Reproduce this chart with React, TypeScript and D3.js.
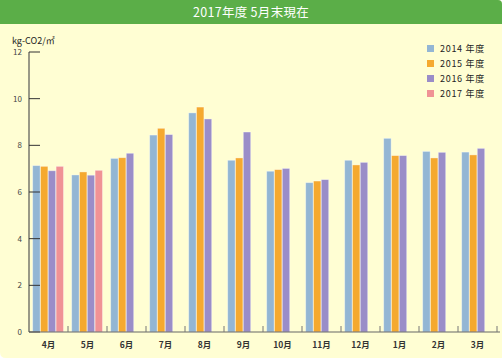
import React from "react";
import * as d3 from "d3";

const months = ["4月", "5月", "6月", "7月", "8月", "9月", "10月", "11月", "12月", "1月", "2月", "3月"];
const seriesNames = ["2014 年度", "2015 年度", "2016 年度", "2017 年度"];
const seriesColors = ["#93B6D4", "#F5A92F", "#9A8DC8", "#F09295"];
const v2014 = [7.13, 6.73, 7.44, 8.44, 9.39, 7.36, 6.89, 6.40, 7.36, 8.30, 7.74, 7.71];
const v2015 = [7.10, 6.86, 7.47, 8.73, 9.64, 7.46, 6.96, 6.47, 7.16, 7.56, 7.46, 7.59];
const v2016 = [6.91, 6.72, 7.66, 8.46, 9.13, 8.57, 7.01, 6.53, 7.27, 7.56, 7.70, 7.87];
const v2017: (number | null)[] = [7.10, 6.93, null, null, null, null, null, null, null, null, null, null];
const yTicks = [0, 2, 4, 6, 8, 10, 12];
const title = "2017年度 5月末現在";
const unit = "kg-CO2/㎡";

const W = 502, H = 360;
const font = "'Noto Sans CJK JP', 'Noto Sans', sans-serif";

export default function App() {
  const allSeries = [v2014, v2015, v2016, v2017];
  const x = d3.scaleBand<string>().domain(months).range([29, 497]).paddingInner(0).paddingOuter(0);
  const y = d3.scaleLinear().domain([0, 12]).range([332, 52]);
  const inner = d3.scaleBand<string>().domain(seriesNames).range([3.7, 3.7 + 4 * 7.7]).paddingInner(0.05);

  const panelPath = `M0,0 H${W - 4} Q${W},0 ${W},4 V${H - 2} H6 Q0,${H - 2} 0,${H - 8} Z`;

  return (
    <svg width={W} height={H} style={{ position: "absolute", left: 0, top: 0 }} fontFamily={font}>
      <rect width={W} height={H} fill="#ffffff" />
      <path d={panelPath} fill="#FFFED3" />
      <path d={`M0,0 H${W - 4} Q${W},0 ${W},4 V24 H0 Z`} fill="#5BAE48" />
      <text x={W / 2} y={17} textAnchor="middle" fill="#ffffff" fontSize={12.5} letterSpacing={0.3}>{title}</text>

      <text x={12} y={44} fontSize={9} fill="#222">{unit}</text>

      {/* bars */}
      {allSeries.map((s, si) =>
        s.map((v, mi) =>
          v == null ? null : (
            <rect
              key={`${si}-${mi}`}
              x={(x(months[mi]) as number) + (inner(seriesNames[si]) as number)}
              y={y(v)}
              width={inner.bandwidth()}
              height={y(0) - y(v)}
              fill={seriesColors[si]}
              stroke="rgba(255,255,255,0.45)"
              strokeWidth={0.8}
            />
          )
        )
      )}

      {/* y axis */}
      <line x1={29} x2={29} y1={52} y2={332} stroke="#555" strokeWidth={1.2} />
      {yTicks.map((t) => (
        <g key={t}>
          <line x1={29} x2={40} y1={y(t)} y2={y(t)} stroke="#333" strokeWidth={1} />
          <text x={22} y={y(t) + 3} textAnchor="end" fontSize={8} fill="#444">{t}</text>
        </g>
      ))}

      {/* x axis */}
      <line x1={29} x2={500} y1={332} y2={332} stroke="#666" strokeWidth={1.2} />
      {months.map((m, i) =>
        i === 0 ? null : (
          <line key={m + "t"} x1={x(m) as number} x2={x(m) as number} y1={332} y2={326} stroke="#777" strokeWidth={1} />
        )
      )}
      <line x1={497} x2={497} y1={332} y2={326} stroke="#777" strokeWidth={1} />
      {months.map((m) => (
        <text key={m} x={(x(m) as number) + x.bandwidth() / 2} y={348} textAnchor="middle" fontSize={8.5} fontWeight="bold" fill="#333">{m}</text>
      ))}

      {/* legend */}
      {seriesNames.map((n, i) => (
        <g key={n} transform={`translate(427,${45 + i * 15})`}>
          <rect x={0} y={0} width={7} height={7} fill={seriesColors[i]} />
          <text x={13} y={7} fontSize={9} fill="#222" letterSpacing={0.7}>{n}</text>
        </g>
      ))}
    </svg>
  );
}
